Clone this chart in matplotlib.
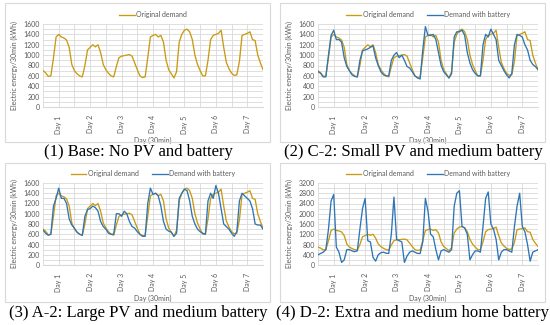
import numpy as np
import matplotlib
matplotlib.use("Agg")
import matplotlib.pyplot as plt
from matplotlib.patches import Rectangle

# ---- data (kWh per 30 min, sampled every 2 hours over 7 days) ----
hours = list(range(0, 169, 2))
day_labels = ["Day 1", "Day 2", "Day 3", "Day 4", "Day 5", "Day 6", "Day 7"]

original = [700, 660, 590, 600, 950, 1350, 1400, 1350, 1330, 1290, 1150, 820,
            700, 640, 600, 580, 800, 1100, 1150, 1200, 1160, 1200, 1050, 820,
            720, 650, 600, 580, 780, 950, 980, 990, 1000, 1010, 980, 850,
            720, 600, 570, 580, 950, 1350, 1380, 1400, 1350, 1380, 1250, 900,
            720, 640, 560, 680, 1250, 1400, 1480, 1500, 1450, 1300, 1000, 820,
            700, 600, 600, 900, 1300, 1380, 1400, 1420, 1480, 1150, 860, 740,
            650, 610, 620, 880, 1380, 1400, 1420, 1450, 1300, 1280, 1000, 850,
            720]

battery_c2 = [680, 650, 580, 580, 1000, 1380, 1480, 1300, 1300, 1250, 950, 780,
              700, 620, 590, 580, 900, 1080, 1100, 1120, 1150, 1180, 950, 800,
              680, 620, 600, 600, 900, 1000, 1050, 950, 1000, 900, 780, 750,
              680, 600, 560, 540, 1100, 1550, 1380, 1380, 1400, 1300, 1050, 800,
              680, 620, 560, 640, 1350, 1450, 1450, 1480, 1380, 1050, 850, 720,
              650, 600, 600, 1200, 1400, 1350, 1500, 1400, 1300, 900, 800, 700,
              620, 560, 650, 1200, 1400, 1380, 1350, 1200, 1100, 900, 820, 780,
              720]

battery_a2 = [680, 620, 580, 600, 1150, 1300, 1500, 1300, 1300, 1200, 900, 780,
              720, 640, 600, 580, 950, 1080, 1100, 1150, 1120, 1050, 850, 750,
              700, 620, 600, 600, 1000, 1000, 950, 1050, 1000, 850, 750, 720,
              650, 600, 560, 560, 1200, 1500, 1380, 1400, 1350, 1150, 850, 700,
              660, 640, 560, 620, 1300, 1400, 1480, 1450, 1250, 950, 800, 700,
              650, 620, 600, 1250, 1400, 1300, 1550, 1400, 1100, 800, 750, 700,
              620, 560, 650, 1250, 1400, 1350, 1300, 1250, 1100, 800, 780, 780,
              700]

battery_d2 = [400, 450, 500, 600, 1400, 2500, 2750, 700, 500, 100, 200, 600,
              600, 550, 520, 550, 1400, 2200, 2600, 950, 900, 300, 150, 400,
              480, 500, 460, 450, 1200, 2650, 1000, 950, 900, 100, 350, 500,
              550, 500, 450, 450, 900, 2600, 2100, 1200, 1100, 600, 200, 550,
              600, 550, 500, 600, 2300, 2800, 2900, 1500, 1450, 1200, 200, 400,
              550, 550, 500, 1500, 2600, 2850, 1600, 1400, 1000, 200, 500, 600,
              600, 550, 500, 1500, 2300, 2800, 1500, 1300, 800, 150, 500, 550,
              600]

panels = [
    ("(1) Base: No PV and battery", None, 1600, 200),
    ("(2) C-2: Small PV and medium battery", battery_c2, 1600, 200),
    ("(3) A-2: Large PV and medium battery", battery_a2, 1600, 200),
    ("(4) D-2: Extra and medium home battery", battery_d2, 3200, 400),
]

ORANGE = "#C99A12"
BLUE = "#2E75B6"
GRID = "#D9D9D9"
TXT = "#595959"
W, H = 550, 325

plt.rcParams["font.family"] = ["Lato", "DejaVu Sans"]
fig = plt.figure(figsize=(W / 100, H / 100), dpi=100)
fig.patch.set_facecolor("white")


def fx(px):
    return px / W


def fy(py):
    return 1 - py / H


origins = [(0, 0), (275, 0), (0, 160), (275, 160)]

for (title, batt, ymax, ystep), (ox, oy) in zip(panels, origins):
    fig.patches.append(Rectangle((fx(ox + 5), fy(oy + 142)), fx(265), 139 / H,
                                 transform=fig.transFigure, fill=False,
                                 edgecolor=GRID, linewidth=0.8))
    l, r, t, b = ox + 43, ox + 263, oy + 24 - (1 if oy else 0), oy + 107 - (2 if oy else 0)
    ax = fig.add_axes([fx(l), fy(b), fx(r - l), (b - t) / H])
    ax.plot(hours, original, color=ORANGE, lw=0.95, label="Original demand")
    if batt is not None:
        ax.plot(hours, batt, color=BLUE, lw=0.95, label="Demand with battery")
    ax.set_xlim(0, 168)
    ax.set_ylim(0, ymax)
    ax.set_yticks(np.arange(0, ymax + 1, ystep))
    ax.set_yticks(np.arange(0, ymax + 1, ystep / 2), minor=True)
    ax.set_xticks([12 + 24 * i for i in range(7)])
    ax.set_xticklabels(day_labels, rotation=90)
    ax.set_xticks(np.arange(0, 169, 12), minor=True)
    ax.tick_params(axis="both", which="both", length=0, labelsize=5, colors=TXT, pad=2)
    ax.tick_params(axis="x", pad=6)
    ax.grid(True, which="both", color=GRID, lw=0.6)
    ax.set_axisbelow(True)
    for s in ["top", "right", "left"]:
        ax.spines[s].set_visible(False)
    ax.spines["bottom"].set_color(GRID)
    ax.set_ylabel("Electric energy/30min (kWh)", fontsize=5, color=TXT, labelpad=4)
    ax.set_xlabel("Day (30min)", fontsize=5, color=TXT, labelpad=2)
    ax.legend(loc="lower center", bbox_to_anchor=(0.5, 1.01), ncol=2, frameon=False,
              fontsize=5, labelcolor=TXT, handlelength=2.2, handletextpad=0.2,
              columnspacing=2.0, borderaxespad=0.3)
    fig.text(fx(ox + 138), fy(oy + 152 + (1 if oy else 0)), title, ha="center", va="center",
             fontsize=12, family="Liberation Serif", color="black")

fig.savefig("out.png", dpi=100, facecolor="white")
